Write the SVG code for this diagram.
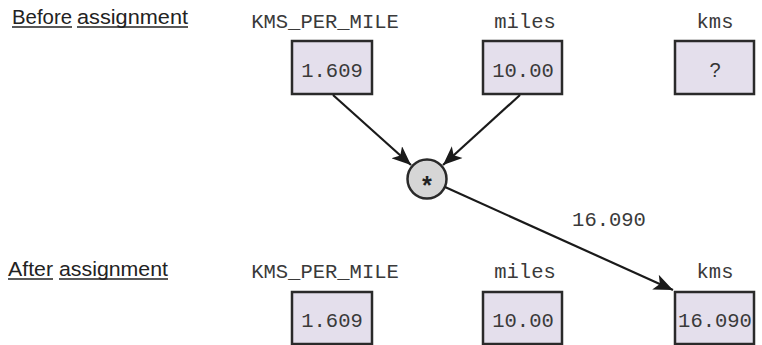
<svg xmlns="http://www.w3.org/2000/svg" width="762" height="345" viewBox="0 0 762 345">
  <style>
    .heading { font-family: "Liberation Sans", Arial, sans-serif; font-size: 20.5px; fill: #222; }
    .ul { stroke: #222; stroke-width: 1.3; }
    .mono { font-family: "Liberation Mono", "Courier New", monospace; font-size: 20.5px; fill: #3a3a3a; text-anchor: middle; }
    .star { font-family: "Liberation Mono", "Courier New", monospace; font-size: 25px; font-weight: bold; fill: #222; text-anchor: middle; }
    .box { fill: #e4dfec; stroke: #2a2a2a; stroke-width: 2.5; }
    .op { fill: #d6d6d6; stroke: #2a2a2a; stroke-width: 2.5; }
    .wire { fill: none; stroke: #1a1a1a; stroke-width: 2.2; }
    .sans { font-family: "Liberation Sans", Arial, sans-serif; font-size: 20px; fill: #333; text-anchor: middle; }
  </style>
  <defs>
    <marker id="arrow" markerUnits="userSpaceOnUse" markerWidth="22" markerHeight="16" refX="18" refY="7.5" orient="auto" viewBox="0 0 20 15">
      <path d="M0,0 L18,7.5 L0,15 L4.5,7.5 Z" fill="#1a1a1a"/>
    </marker>
  </defs>

  <rect width="762" height="345" fill="#ffffff"/>

  <!-- headings: each word underlined on its own -->
  <g id="before-heading">
    <text class="heading" x="12" y="24" textLength="60" lengthAdjust="spacingAndGlyphs">Before</text>
    <text class="heading" x="77" y="24" textLength="111" lengthAdjust="spacingAndGlyphs">assignment</text>
    <line class="ul" x1="12" y1="27" x2="72" y2="27"/>
    <line class="ul" x1="77" y1="27" x2="188" y2="27"/>
  </g>
  <g id="after-heading">
    <text class="heading" x="8" y="276" textLength="45" lengthAdjust="spacingAndGlyphs">After</text>
    <text class="heading" x="59" y="276" textLength="109" lengthAdjust="spacingAndGlyphs">assignment</text>
    <line class="ul" x1="8" y1="279" x2="53" y2="279"/>
    <line class="ul" x1="59" y1="279" x2="168" y2="279"/>
  </g>

  <!-- variables before assignment -->
  <g id="kms-per-mile-before">
    <text class="mono" x="325" y="28">KMS_PER_MILE</text>
    <rect class="box" x="292" y="41" width="80" height="53"/>
    <text class="mono" x="332" y="77">1.609</text>
  </g>
  <g id="miles-before">
    <text class="mono" x="525" y="28">miles</text>
    <rect class="box" x="483" y="41" width="79" height="53"/>
    <text class="mono" x="523" y="77">10.00</text>
  </g>
  <g id="kms-before">
    <text class="mono" x="715" y="28">kms</text>
    <rect class="box" x="675" y="41" width="79" height="53"/>
    <text class="sans" x="715" y="77">?</text>
  </g>

  <!-- multiplication -->
  <g id="multiply">
    <circle class="op" cx="427" cy="179" r="19.5"/>
    <text class="star" x="427" y="195">*</text>
  </g>

  <!-- variables after assignment -->
  <g id="kms-per-mile-after">
    <text class="mono" x="325" y="278">KMS_PER_MILE</text>
    <rect class="box" x="292" y="292" width="80" height="52"/>
    <text class="mono" x="332" y="327">1.609</text>
  </g>
  <g id="miles-after">
    <text class="mono" x="525" y="278">miles</text>
    <rect class="box" x="483" y="292" width="79" height="52"/>
    <text class="mono" x="523" y="327">10.00</text>
  </g>
  <g id="kms-after">
    <text class="mono" x="715" y="278">kms</text>
    <rect class="box" x="675" y="292" width="79" height="52"/>
    <text class="mono" x="715" y="327">16.090</text>
  </g>

  <!-- connectors -->
  <g id="connectors">
    <line class="wire" x1="333" y1="95" x2="411" y2="165" marker-end="url(#arrow)"/>
    <line class="wire" x1="520" y1="95" x2="443" y2="165" marker-end="url(#arrow)"/>
    <line class="wire" x1="445" y1="187" x2="673" y2="290" marker-end="url(#arrow)"/>
    <text class="mono" x="609" y="226">16.090</text>
  </g>
</svg>
